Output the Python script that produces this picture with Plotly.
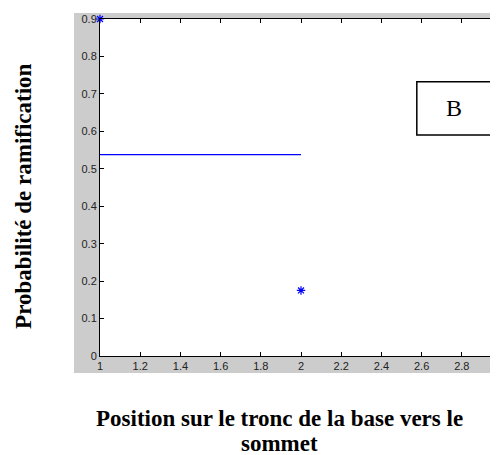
import plotly.graph_objects as go

# Data
positions = [1, 2]
probabilities = [0.9, 0.175]
mean_line_x = [1, 2]
mean_line_y = [0.538, 0.538]

x_ticks = [1, 1.2, 1.4, 1.6, 1.8, 2, 2.2, 2.4, 2.6, 2.8]
x_tick_labels = ["1", "1.2", "1.4", "1.6", "1.8", "2", "2.2", "2.4", "2.6", "2.8"]
y_ticks = [0, 0.1, 0.2, 0.3, 0.4, 0.5, 0.6, 0.7, 0.8, 0.9]
y_tick_labels = ["0", "0.1", "0.2", "0.3", "0.4", "0.5", "0.6", "0.7", "0.8", "0.9"]

x_title_lines = ["Position sur le tronc de la base vers le", "sommet"]
y_title = "Probabilité de ramification"
panel_label = "B"

SERIF = "Liberation Serif, Times New Roman, serif"

fig = go.Figure()

fig.add_trace(go.Scatter(
    x=mean_line_x, y=mean_line_y, mode="lines",
    line=dict(color="#0000ff", width=1.3),
    showlegend=False, hoverinfo="skip",
))
fig.add_trace(go.Scatter(
    x=positions, y=probabilities, mode="markers",
    marker=dict(symbol="asterisk-open", size=7, color="#0000ff",
                line=dict(color="#0000ff", width=1.2)),
    cliponaxis=False, showlegend=False,
))

axis_common = dict(
    showline=True, linecolor="black", linewidth=1,
    mirror="ticks", ticks="inside", ticklen=4, tickcolor="black", tickwidth=1,
    showgrid=False, zeroline=False,
    tickfont=dict(family="Liberation Sans, Arial, sans-serif", size=11, color="#222222"),
)

fig.update_xaxes(range=[1, 2.98], tickvals=x_ticks, ticktext=x_tick_labels, **axis_common)
fig.update_yaxes(range=[0, 0.9], tickvals=y_ticks, ticktext=y_tick_labels, **axis_common)

# gray MATLAB-like figure background around axes, then white axes area
fig.add_shape(type="rect", xref="paper", yref="paper",
              x0=-0.0653, x1=1.05, y0=-0.0504, y1=1.0178,
              fillcolor="#cccccc", line=dict(width=0), layer="below")
fig.add_shape(type="rect", xref="paper", yref="paper",
              x0=0, x1=1.05, y0=0, y1=1,
              fillcolor="white", line=dict(width=0), layer="below")

# panel label box
fig.add_shape(type="rect", xref="paper", yref="paper",
              x0=0.796, x1=0.984, y0=0.656, y1=0.814,
              line=dict(color="black", width=1.5), fillcolor="rgba(0,0,0,0)")
fig.add_annotation(text=panel_label, xref="paper", yref="paper",
                   x=0.89, y=0.735, showarrow=False, xanchor="center", yanchor="middle",
                   font=dict(family=SERIF, size=24, color="black"))

# axis titles
for txt, yp in zip(x_title_lines, [-0.184, -0.258]):
    fig.add_annotation(text="<b>" + txt + "</b>", xref="paper", yref="paper",
                       x=0.452, y=yp, showarrow=False, xanchor="center", yanchor="middle",
                       height=22, borderpad=0,
                       font=dict(family=SERIF, size=23, color="black"))
fig.add_annotation(text="<b>" + y_title + "</b>", xref="paper", yref="paper",
                   x=-0.191, y=0.475, showarrow=False, xanchor="center", yanchor="middle",
                   textangle=-90,
                   font=dict(family=SERIF, size=23, color="black"))

fig.update_layout(
    width=490, height=447,
    margin=dict(l=92, r=0, t=11, b=99),
    paper_bgcolor="white", plot_bgcolor="white",
    showlegend=False,
)

fig.write_html("out.html")
